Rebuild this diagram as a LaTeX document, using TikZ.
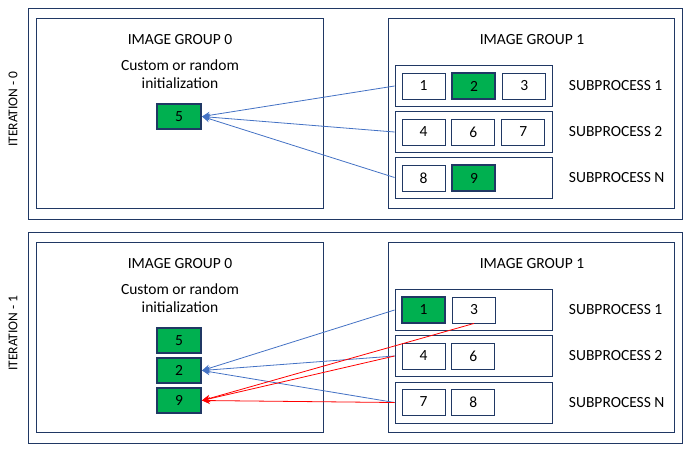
\documentclass[tikz,border=0pt]{standalone}
\usepackage{fontspec}
\setmainfont{Carlito}
\usetikzlibrary{arrows.meta,positioning}
\definecolor{frameblue}{RGB}{32,56,100}
\definecolor{cellgreen}{RGB}{0,176,80}
\definecolor{linkblue}{RGB}{68,114,196}
\definecolor{linkred}{RGB}{255,0,0}

\begin{document}
\begin{tikzpicture}[x=1pt,y=-1pt,>={Stealth[length=8pt,width=7pt]},node distance=6pt,
    font=\fontsize{15.5}{18.5}\selectfont]
        \tikzstyle{frame}=[draw=frameblue,line width=0.9pt]
        \tikzstyle{cell}=[frame,minimum width=43pt,minimum height=26pt,inner sep=0pt]
        \tikzstyle{hot}=[cell,fill=cellgreen,line width=2pt]
        \tikzstyle{pick}=[hot,minimum width=44pt,minimum height=25pt]
        \tikzstyle{subbox}=[frame,minimum width=157pt,minimum height=41pt]
        \tikzstyle{blueline}=[->,draw=linkblue,line width=0.8pt]
        \tikzstyle{redline}=[->,draw=linkred,line width=0.8pt]
        \tikzstyle{iter}=[rotate=90,font=\fontsize{13.5}{16}\selectfont]
        \useasboundingbox (0,0) rectangle (690,450);

        \draw[frame] (28,8)   rectangle (682,219);
        \draw[frame] (36,18)  rectangle (323,208);
        \draw[frame] (388,18) rectangle (674,208);
        \draw[frame] (28,232)  rectangle (682,443);
        \draw[frame] (36,242)  rectangle (323,432);
        \draw[frame] (388,242) rectangle (674,432);

        \node[iter]                 (it0) at (13,109)   {ITERATION - 0};
        \node                       (g00) at (180,40)   {IMAGE GROUP 0};
        \node[align=center]         (c00) at (180,74)   {Custom or random\\initialization};
        \node[pick]                 (p05) at (179,116.5) {5};
        \node                       (g01) at (532,40)   {IMAGE GROUP 1};

        \node[subbox]               (s01) at (473.5,86)    {};
        \node[subbox]               (s02) at (473.5,132)   {};
        \node[subbox]               (s0n) at (473.5,177.5) {};
        \node                       (l01) [right=13pt of s01] {SUBPROCESS 1};
        \node                       (l02) [right=13pt of s02] {SUBPROCESS 2};
        \node                       (l0n) [right=13pt of s0n] {SUBPROCESS N};

        \node[cell]                 (a1) at (423.5,86)  {1};
        \node[hot]                  (a2) [right=of a1]  {2};
        \node[cell]                 (a3) [right=of a2]  {3};
        \node[cell]                 (b1) at (423.5,132) {4};
        \node[cell]                 (b2) [right=of b1]  {6};
        \node[cell]                 (b3) [right=of b2]  {7};
        \node[cell]                 (c1) at (423.5,178) {8};
        \node[hot]                  (c2) [right=of c1]  {9};

        \draw[blueline] (s01.west) -- (p05.east);
        \draw[blueline] (s02.west) -- (p05.east);
        \draw[blueline] (s0n.west) -- (p05.east);

        \node[iter]                 (it1) at (13,333)   {ITERATION - 1};
        \node                       (g10) at (180,264)  {IMAGE GROUP 0};
        \node[align=center]         (c10) at (180,298)  {Custom or random\\initialization};
        \node[pick]                 (q5) at (179,340.5) {5};
        \node[pick]                 (q2) [below=3pt of q5] {2};
        \node[pick]                 (q9) [below=3pt of q2] {9};
        \node                       (g11) at (532,264)  {IMAGE GROUP 1};

        \node[subbox]               (s11) at (473.5,310)   {};
        \node[subbox]               (s12) at (473.5,356)   {};
        \node[subbox]               (s1n) at (473.5,402.5) {};
        \node                       (l11) [right=13pt of s11] {SUBPROCESS 1};
        \node                       (l12) [right=13pt of s12] {SUBPROCESS 2};
        \node                       (l1n) [right=13pt of s1n] {SUBPROCESS N};

        \node[hot]                  (d1) at (423.5,310) {1};
        \node[cell]                 (d2) [right=of d1]  {3};
        \node[cell]                 (e1) at (423.5,356) {4};
        \node[cell]                 (e2) [right=of e1]  {6};
        \node[cell]                 (f1) at (423.5,402) {7};
        \node[cell]                 (f2) [right=of f1]  {8};

        \draw[blueline] (s11.west) -- (q2.east);
        \draw[blueline] (s12.west) -- (q2.east);
        \draw[blueline] (s1n.west) -- (q2.east);
        \draw[redline]  (d2.south) -- (q9.east);
        \draw[redline]  (s12.west) -- (q9.east);
        \draw[redline]  (s1n.west) -- (q9.east);
\end{tikzpicture}
\end{document}
